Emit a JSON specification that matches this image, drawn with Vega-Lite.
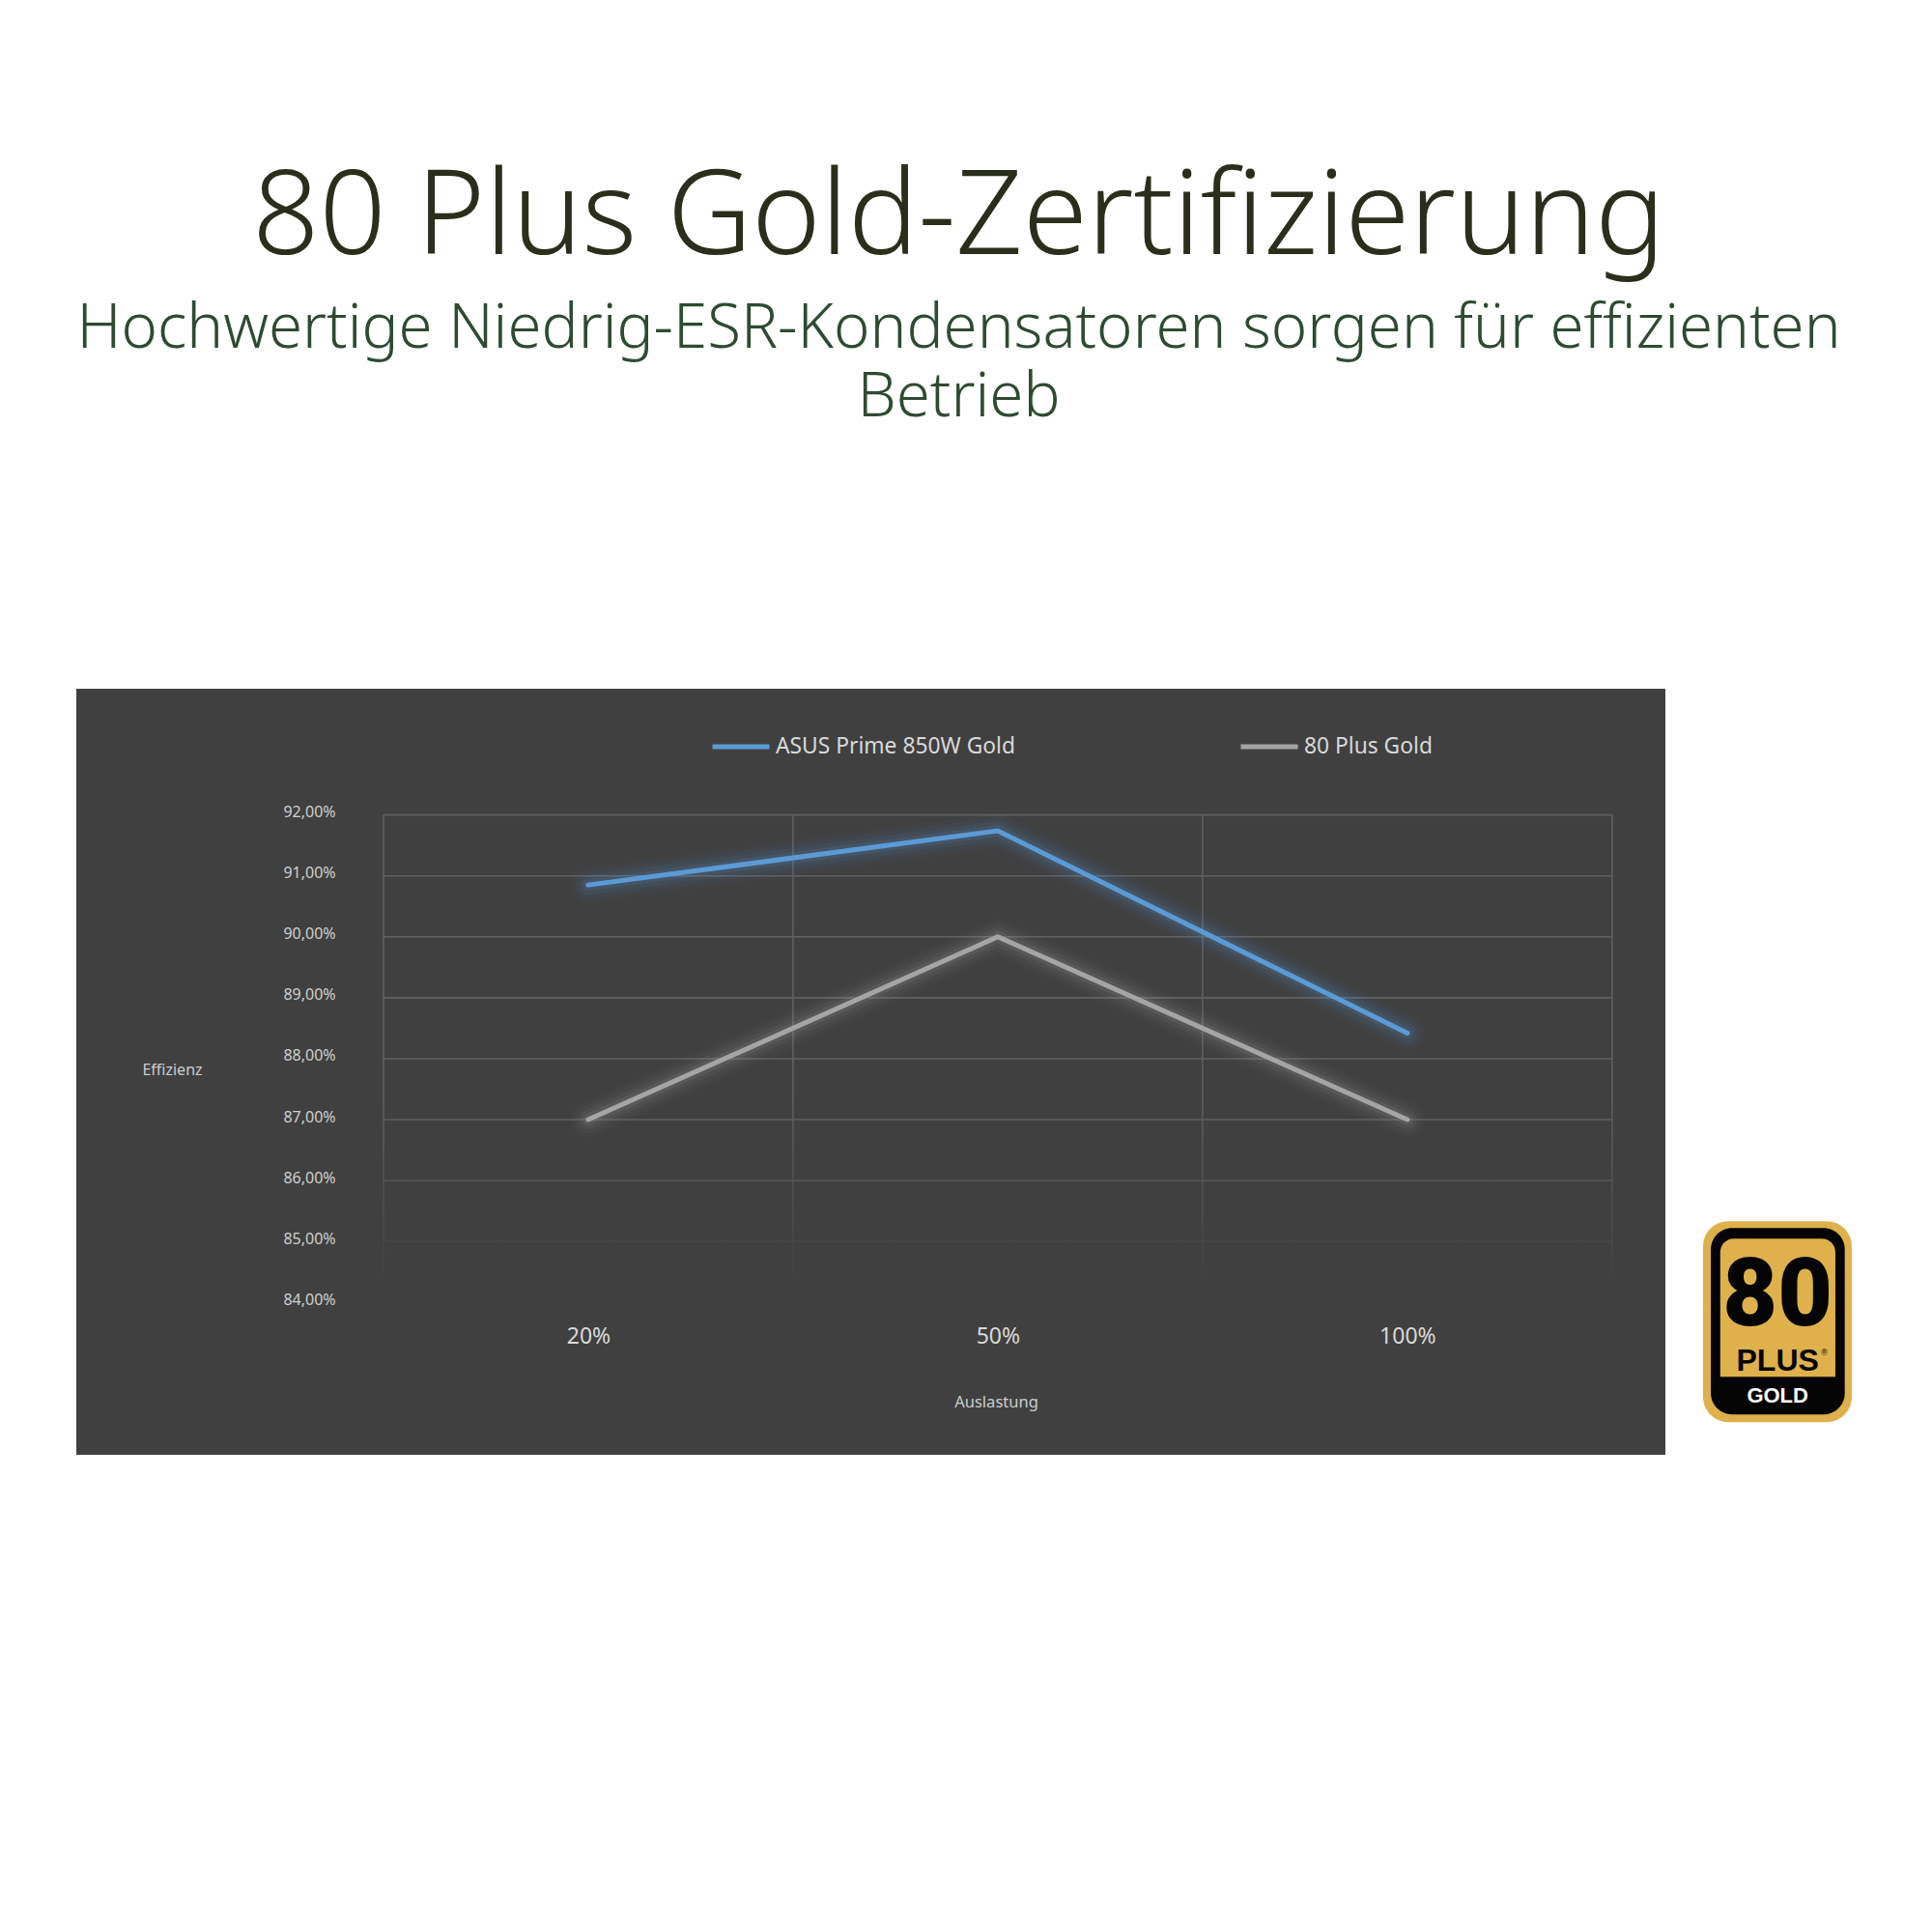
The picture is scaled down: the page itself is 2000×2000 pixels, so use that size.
{
  "$schema": "https://vega.github.io/schema/vega-lite/v6.json",
  "autosize": "none",
  "width": 1645,
  "height": 793,
  "padding": {"left": 79, "top": 713, "right": 276, "bottom": 494},
  "background": "#ffffff",
  "view": {"fill": "#404040", "stroke": null},
  "config": {"font": "Noto Sans"},
  "title": {
    "text": "80 Plus Gold-Zertifizierung",
    "subtitle": ["Hochwertige Niedrig-ESR-Kondensatoren sorgen für effizienten", "Betrieb"],
    "anchor": "middle",
    "frame": "group",
    "dx": 91,
    "offset": 268,
    "font": "Noto Sans",
    "fontSize": 121,
    "fontWeight": 300,
    "color": "#2a2e1c",
    "subtitleFont": "Noto Sans",
    "subtitleFontSize": 63.6,
    "subtitleFontWeight": 300,
    "subtitleColor": "#2f4a33",
    "subtitleLineHeight": 71,
    "subtitlePadding": 22.5
  },
  "datasets": {
    "series": [
      {"Auslastung": "20%", "Stufe": 1, "Serie": "ASUS Prime 850W Gold", "Effizienz": 90.85},
      {"Auslastung": "50%", "Stufe": 2, "Serie": "ASUS Prime 850W Gold", "Effizienz": 91.74},
      {"Auslastung": "100%", "Stufe": 3, "Serie": "ASUS Prime 850W Gold", "Effizienz": 88.42},
      {"Auslastung": "20%", "Stufe": 1, "Serie": "80 Plus Gold", "Effizienz": 87},
      {"Auslastung": "50%", "Stufe": 2, "Serie": "80 Plus Gold", "Effizienz": 90},
      {"Auslastung": "100%", "Stufe": 3, "Serie": "80 Plus Gold", "Effizienz": 87}
    ],
    "hgrid": [
      {"Effizienz": 92, "von": 0.5, "bis": 3.5},
      {"Effizienz": 91, "von": 0.5, "bis": 3.5},
      {"Effizienz": 90, "von": 0.5, "bis": 3.5},
      {"Effizienz": 89, "von": 0.5, "bis": 3.5},
      {"Effizienz": 88, "von": 0.5, "bis": 3.5},
      {"Effizienz": 87, "von": 0.5, "bis": 3.5},
      {"Effizienz": 86, "von": 0.5, "bis": 3.5},
      {"Effizienz": 85, "von": 0.5, "bis": 3.5}
    ],
    "vgrid": [{"Stufe": 0.5}, {"Stufe": 1.5}, {"Stufe": 2.5}, {"Stufe": 3.5}]
  },
  "layer": [
    {
      "data": {"name": "hgrid"},
      "mark": {"type": "rule", "color": "#606060", "strokeWidth": 1.6},
      "encoding": {
        "x": {
          "field": "von",
          "type": "quantitative",
          "scale": {"domain": [-0.25, 3.63], "nice": false, "zero": false},
          "axis": {
            "values": [1, 2, 3],
            "labelExpr": "datum.value == 1 ? '20%' : datum.value == 2 ? '50%' : '100%'",
            "orient": "bottom",
            "offset": -134,
            "domain": false,
            "ticks": false,
            "grid": false,
            "labelPadding": 0,
            "labelFontSize": 23,
            "labelColor": "#d9d9d9",
            "labelBaseline": "top",
            "title": "Auslastung",
            "titleFontSize": 16.5,
            "titleFontWeight": "normal",
            "titleColor": "#cccccc",
            "titleX": 952,
            "titleY": 79,
            "titleAlign": "center",
            "titleBaseline": "middle"
          }
        },
        "x2": {"field": "bis"},
        "y": {
          "field": "Effizienz",
          "type": "quantitative",
          "scale": {"domain": [81.5, 94.07], "nice": false, "zero": false},
          "axis": {
            "values": [84, 85, 86, 87, 88, 89, 90, 91, 92],
            "labelExpr": "replace(format(datum.value, '.2f'), '.', ',') + '%'",
            "offset": -241,
            "domain": false,
            "ticks": false,
            "grid": false,
            "labelPadding": 0,
            "labelAlign": "center",
            "labelOffset": -3,
            "labelFontSize": 16,
            "labelColor": "#cfcfcf",
            "title": "Effizienz",
            "titleAngle": 0,
            "titleFontSize": 16,
            "titleFontWeight": "normal",
            "titleColor": "#cccccc",
            "titleX": -142,
            "titleY": 394,
            "titleAlign": "center",
            "titleBaseline": "middle"
          }
        }
      }
    },
    {
      "data": {"name": "vgrid"},
      "mark": {"type": "rule", "color": "#606060", "strokeWidth": 1.6},
      "encoding": {
        "x": {"field": "Stufe", "type": "quantitative"},
        "y": {"datum": 92},
        "y2": {"datum": 84}
      }
    },
    {
      "data": {"values": [{"von": 0.48, "bis": 3.52, "oben": 87.4, "unten": 84}]},
      "mark": {
        "type": "rect",
        "fill": {
          "gradient": "linear",
          "x1": 0,
          "y1": 0,
          "x2": 0,
          "y2": 1,
          "stops": [
            {"offset": 0, "color": "rgba(64,64,64,0)"},
            {"offset": 0.92, "color": "rgba(64,64,64,1)"},
            {"offset": 1, "color": "rgba(64,64,64,1)"}
          ]
        }
      },
      "encoding": {
        "x": {"field": "von", "type": "quantitative"},
        "x2": {"field": "bis"},
        "y": {"field": "oben", "type": "quantitative"},
        "y2": {"field": "unten"}
      }
    },
    {
      "data": {"name": "series"},
      "mark": {"type": "line", "strokeWidth": 36, "opacity": 0.035, "strokeCap": "round"},
      "encoding": {
        "x": {"field": "Stufe", "type": "quantitative"},
        "y": {"field": "Effizienz", "type": "quantitative"},
        "detail": {"field": "Serie"},
        "color": {"condition": {"test": "datum.Serie == '80 Plus Gold'", "value": "#a5a5a5"}, "value": "#5b9bd5"}
      }
    },
    {
      "data": {"name": "series"},
      "mark": {"type": "line", "strokeWidth": 28, "opacity": 0.05, "strokeCap": "round"},
      "encoding": {
        "x": {"field": "Stufe", "type": "quantitative"},
        "y": {"field": "Effizienz", "type": "quantitative"},
        "detail": {"field": "Serie"},
        "color": {"condition": {"test": "datum.Serie == '80 Plus Gold'", "value": "#a5a5a5"}, "value": "#5b9bd5"}
      }
    },
    {
      "data": {"name": "series"},
      "mark": {"type": "line", "strokeWidth": 20, "opacity": 0.08, "strokeCap": "round"},
      "encoding": {
        "x": {"field": "Stufe", "type": "quantitative"},
        "y": {"field": "Effizienz", "type": "quantitative"},
        "detail": {"field": "Serie"},
        "color": {"condition": {"test": "datum.Serie == '80 Plus Gold'", "value": "#a5a5a5"}, "value": "#5b9bd5"}
      }
    },
    {
      "data": {"name": "series"},
      "mark": {"type": "line", "strokeWidth": 12, "opacity": 0.12, "strokeCap": "round"},
      "encoding": {
        "x": {"field": "Stufe", "type": "quantitative"},
        "y": {"field": "Effizienz", "type": "quantitative"},
        "detail": {"field": "Serie"},
        "color": {"condition": {"test": "datum.Serie == '80 Plus Gold'", "value": "#a5a5a5"}, "value": "#5b9bd5"}
      }
    },
    {
      "data": {"name": "series"},
      "mark": {"type": "line", "strokeWidth": 5, "strokeCap": "round", "strokeJoin": "miter"},
      "encoding": {
        "x": {"field": "Stufe", "type": "quantitative"},
        "y": {"field": "Effizienz", "type": "quantitative"},
        "color": {
          "field": "Serie",
          "type": "nominal",
          "scale": {
            "domain": ["ASUS Prime 850W Gold", "80 Plus Gold"],
            "range": ["#5b9bd5", "#a5a5a5"]
          },
          "legend": {
            "orient": "none",
            "legendX": 656,
            "legendY": 28,
            "direction": "horizontal",
            "columns": 2,
            "columnPadding": 223,
            "padding": 0,
            "title": null,
            "symbolType": "stroke",
            "symbolSize": 3481,
            "symbolStrokeWidth": 5,
            "labelFontSize": 22.8,
            "labelColor": "#d9d9d9",
            "labelOffset": 4,
            "labelLimit": 400
          }
        }
      }
    },
    {
      "data": {"values": [{"l": 3.722, "r": 4.085, "o": 85.334, "u": 82.036}]},
      "mark": {"type": "rect", "fill": "#dfb14c", "cornerRadius": 26},
      "encoding": {
        "x": {"field": "l", "type": "quantitative"},
        "x2": {"field": "r"},
        "y": {"field": "o", "type": "quantitative"},
        "y2": {"field": "u"}
      }
    },
    {
      "data": {"values": [{"l": 3.741, "r": 4.068, "o": 85.223, "u": 82.163}]},
      "mark": {"type": "rect", "fill": "#050505", "cornerRadius": 22},
      "encoding": {
        "x": {"field": "l", "type": "quantitative"},
        "x2": {"field": "r"},
        "y": {"field": "o", "type": "quantitative"},
        "y2": {"field": "u"}
      }
    },
    {
      "data": {"values": [{"l": 3.764, "r": 4.045, "o": 85.048, "u": 82.781}]},
      "mark": {"type": "rect", "fill": "#dfb14c", "cornerRadiusTopLeft": 14, "cornerRadiusTopRight": 14},
      "encoding": {
        "x": {"field": "l", "type": "quantitative"},
        "x2": {"field": "r"},
        "y": {"field": "o", "type": "quantitative"},
        "y2": {"field": "u"}
      }
    },
    {
      "data": {"values": [{"t": "80", "x": 3.904, "y": 84.113}]},
      "mark": {"type": "text", "font": "Roboto", "fontWeight": 900, "fontSize": 98, "color": "#050505", "baseline": "middle", "dy": 2},
      "encoding": {
        "x": {"field": "x", "type": "quantitative"},
        "y": {"field": "y", "type": "quantitative"},
        "text": {"field": "t"}
      }
    },
    {
      "data": {"values": [{"t": "PLUS", "x": 3.904, "y": 83.058}]},
      "mark": {"type": "text", "font": "Liberation Sans", "fontWeight": "bold", "fontSize": 32, "color": "#050505", "baseline": "middle", "dy": 1},
      "encoding": {
        "x": {"field": "x", "type": "quantitative"},
        "y": {"field": "y", "type": "quantitative"},
        "text": {"field": "t"}
      }
    },
    {
      "data": {"values": [{"t": "GOLD", "x": 3.904, "y": 82.487}]},
      "mark": {"type": "text", "font": "Liberation Sans", "fontWeight": "bold", "fontSize": 22, "color": "#ffffff", "baseline": "middle", "dy": 1},
      "encoding": {
        "x": {"field": "x", "type": "quantitative"},
        "y": {"field": "y", "type": "quantitative"},
        "text": {"field": "t"}
      }
    },
    {
      "data": {"values": [{"t": "®", "x": 4.018, "y": 83.177}]},
      "mark": {"type": "text", "font": "Liberation Sans", "fontSize": 9, "color": "#050505", "baseline": "middle"},
      "encoding": {
        "x": {"field": "x", "type": "quantitative"},
        "y": {"field": "y", "type": "quantitative"},
        "text": {"field": "t"}
      }
    }
  ]
}
